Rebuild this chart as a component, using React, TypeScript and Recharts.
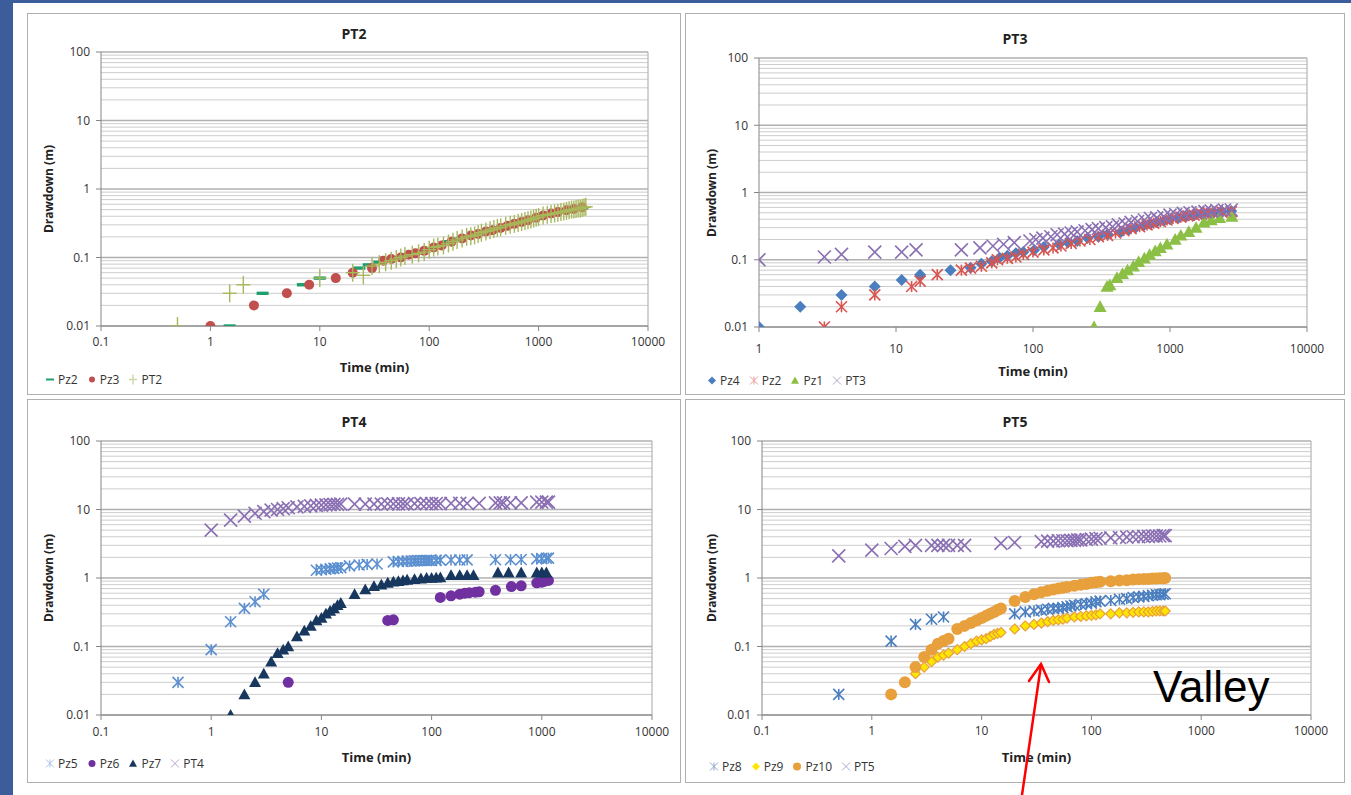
import React from 'react';
import { ScatterChart, Scatter, XAxis, YAxis, CartesianGrid, ReferenceLine } from 'recharts';

// ---------------- DATA ----------------
// Axis ticks
const Y_MAJOR = [0.01, 0.1, 1, 10, 100];
const Y_MINOR = [0.02, 0.03, 0.04, 0.05, 0.06, 0.07, 0.08, 0.09, 0.2, 0.3, 0.4, 0.5, 0.6, 0.7, 0.8, 0.9, 2, 3, 4, 5, 6, 7, 8, 9, 20, 30, 40, 50, 60, 70, 80, 90];
const X_TICKS_A = [0.1, 1, 10, 100, 1000, 10000];
const X_TICKS_B = [1, 10, 100, 1000, 10000];

// PT2 panel
const pt2Pz2T = [1.5, 3, 7, 10, 23, 28, 35, 45, 55, 65, 80, 100, 120, 150, 180, 210, 250, 300, 350, 400, 480, 560, 640, 720, 800, 900, 1000, 1150, 1300, 1500, 1700, 1900, 2100, 2300, 2500];
const pt2Pz2D = [0.01, 0.03, 0.04, 0.05, 0.07, 0.078, 0.085, 0.095, 0.1, 0.11, 0.12, 0.135, 0.15, 0.17, 0.185, 0.2, 0.215, 0.235, 0.25, 0.27, 0.29, 0.31, 0.33, 0.35, 0.36, 0.38, 0.4, 0.43, 0.44, 0.46, 0.48, 0.5, 0.51, 0.52, 0.53];
const pt2Pz3T = [1, 2.5, 5, 8, 14, 20, 30, 38, 45, 55, 65, 75, 90, 110, 130, 160, 200, 240, 280, 330, 380, 450, 520, 600, 700, 800, 950, 1100, 1300, 1500, 1800, 2100, 2500];
const pt2Pz3D = [0.01, 0.02, 0.03, 0.04, 0.05, 0.06, 0.07, 0.09, 0.095, 0.1, 0.11, 0.115, 0.125, 0.14, 0.15, 0.17, 0.19, 0.21, 0.22, 0.24, 0.25, 0.27, 0.29, 0.31, 0.33, 0.35, 0.38, 0.41, 0.44, 0.46, 0.49, 0.51, 0.54];
const pt2PT2T = [0.5, 1.5, 2, 10, 20, 25, 30, 35, 40, 45, 50, 55, 60, 70, 80, 90, 100, 110, 120, 135, 150, 165, 180, 200, 220, 240, 260, 280, 300, 330, 360, 390, 420, 450, 500, 550, 600, 650, 700, 750, 800, 850, 900, 950, 1000, 1100, 1200, 1300, 1400, 1500, 1600, 1700, 1800, 1900, 2000, 2100, 2200, 2300, 2400, 2500, 2600, 2700];
const pt2PT2D = [0.01, 0.03, 0.04, 0.05, 0.06, 0.055, 0.075, 0.08, 0.085, 0.09, 0.095, 0.1, 0.105, 0.11, 0.115, 0.12, 0.13, 0.14, 0.145, 0.15, 0.16, 0.17, 0.18, 0.19, 0.2, 0.205, 0.21, 0.22, 0.23, 0.24, 0.25, 0.26, 0.27, 0.275, 0.29, 0.3, 0.31, 0.32, 0.33, 0.34, 0.35, 0.36, 0.37, 0.38, 0.39, 0.41, 0.42, 0.43, 0.44, 0.45, 0.46, 0.47, 0.48, 0.49, 0.5, 0.5, 0.51, 0.52, 0.52, 0.53, 0.54, 0.55];

// PT3 panel
const pt3Pz4T = [1, 2, 4, 7, 11, 15, 25, 35, 42, 50, 57, 65, 75, 85, 102, 120, 155, 180, 210, 250, 300, 350, 440, 500, 560, 640, 720, 800, 900, 1000, 1150, 1300, 1500, 1700, 1900, 2100, 2400, 2800];
const pt3Pz4D = [0.01, 0.02, 0.03, 0.04, 0.05, 0.06, 0.07, 0.076, 0.087, 0.095, 0.107, 0.115, 0.125, 0.13, 0.14, 0.155, 0.17, 0.18, 0.19, 0.21, 0.22, 0.24, 0.26, 0.28, 0.3, 0.32, 0.34, 0.36, 0.38, 0.4, 0.42, 0.44, 0.46, 0.48, 0.5, 0.51, 0.52, 0.53];
const pt3Pz2T = [3, 4, 7, 13, 15, 20, 30, 35, 42, 50, 55, 65, 75, 85, 100, 120, 140, 160, 190, 220, 260, 300, 350, 400, 460, 520, 600, 680, 760, 850, 950, 1050, 1200, 1350, 1500, 1700, 1900, 2100, 2400, 2800];
const pt3Pz2D = [0.01, 0.02, 0.03, 0.04, 0.048, 0.06, 0.07, 0.075, 0.08, 0.09, 0.1, 0.105, 0.11, 0.12, 0.13, 0.14, 0.15, 0.16, 0.175, 0.19, 0.2, 0.22, 0.23, 0.25, 0.27, 0.29, 0.31, 0.33, 0.35, 0.37, 0.39, 0.41, 0.43, 0.45, 0.46, 0.48, 0.5, 0.5, 0.51, 0.52];
const pt3Pz1T = [279, 309, 347, 364, 410, 450, 490, 540, 590, 650, 710, 780, 850, 950, 1090, 1200, 1370, 1550, 1770, 2000, 2300, 2830];
const pt3Pz1D = [0.01, 0.02, 0.04, 0.042, 0.054, 0.062, 0.07, 0.08, 0.093, 0.105, 0.119, 0.135, 0.15, 0.17, 0.2, 0.23, 0.26, 0.3, 0.36, 0.39, 0.42, 0.44];
const pt3PT3T = [1, 3, 4, 7, 11, 14, 30, 41, 51, 61, 73, 95, 105, 118, 135, 150, 170, 190, 210, 240, 270, 300, 340, 380, 420, 470, 520, 580, 650, 720, 800, 900, 1000, 1100, 1250, 1400, 1600, 1800, 2000, 2200, 2500, 2800];
const pt3PT3D = [0.1, 0.11, 0.12, 0.13, 0.13, 0.14, 0.14, 0.15, 0.16, 0.17, 0.18, 0.19, 0.2, 0.21, 0.22, 0.235, 0.24, 0.25, 0.26, 0.27, 0.28, 0.29, 0.3, 0.31, 0.33, 0.34, 0.36, 0.37, 0.39, 0.41, 0.42, 0.44, 0.46, 0.47, 0.49, 0.5, 0.51, 0.52, 0.53, 0.54, 0.55, 0.55];

// PT4 panel
const pt4Pz5T = [0.5, 1, 1.5, 2, 2.5, 3, 9, 10, 11, 12, 13, 14, 15, 18, 22, 26, 32, 45, 50, 55, 60, 65, 70, 75, 80, 85, 90, 95, 100, 110, 120, 150, 180, 210, 380, 520, 650, 900, 1000, 1100, 1150];
const pt4Pz5D = [0.03, 0.09, 0.23, 0.36, 0.45, 0.58, 1.3, 1.32, 1.34, 1.36, 1.38, 1.4, 1.42, 1.5, 1.55, 1.58, 1.6, 1.72, 1.74, 1.75, 1.76, 1.77, 1.78, 1.79, 1.8, 1.8, 1.8, 1.8, 1.8, 1.81, 1.82, 1.83, 1.83, 1.84, 1.85, 1.85, 1.86, 1.9, 1.92, 1.94, 1.95];
const pt4Pz6T = [5, 40, 45, 120, 150, 180, 200, 220, 250, 270, 380, 530, 650, 900, 1000, 1050, 1150];
const pt4Pz6D = [0.03, 0.24, 0.245, 0.52, 0.55, 0.58, 0.6, 0.61, 0.62, 0.63, 0.66, 0.75, 0.77, 0.85, 0.87, 0.89, 0.92];
const pt4Pz7T = [1.5, 2, 2.5, 3, 3.5, 4, 4.5, 5, 6, 7, 8, 9, 10, 11, 12, 13, 14, 15, 20, 25, 30, 35, 40, 45, 50, 55, 60, 70, 80, 90, 100, 110, 120, 150, 180, 210, 240, 400, 500, 650, 900, 1000, 1100];
const pt4Pz7D = [0.01, 0.02, 0.03, 0.04, 0.06, 0.08, 0.09, 0.1, 0.14, 0.17, 0.2, 0.24, 0.26, 0.3, 0.33, 0.36, 0.4, 0.43, 0.58, 0.68, 0.76, 0.8, 0.85, 0.88, 0.9, 0.92, 0.94, 0.96, 0.98, 1.0, 1.0, 1.01, 1.02, 1.1, 1.1, 1.1, 1.1, 1.2, 1.2, 1.2, 1.2, 1.2, 1.2];
const pt4PT4T = [1, 1.5, 2, 2.5, 3, 3.5, 4, 4.5, 5, 6, 7, 8, 9, 10, 11, 12, 13, 14, 15, 20, 25, 30, 35, 40, 45, 50, 55, 60, 70, 80, 90, 100, 110, 120, 150, 180, 210, 270, 380, 420, 450, 520, 650, 900, 1000, 1100, 1150];
const pt4PT4D = [5, 7, 8, 8.8, 9.3, 9.8, 10, 10.3, 10.6, 10.9, 11.1, 11.3, 11.5, 11.6, 11.7, 11.8, 11.9, 11.9, 12, 12, 12, 12, 12, 12.1, 12.1, 12.1, 12.1, 12.1, 12.2, 12.2, 12.2, 12.2, 12.2, 12.2, 12.3, 12.3, 12.3, 12.3, 12.5, 12.5, 12.5, 12.5, 12.5, 12.8, 12.8, 12.8, 12.8];

// PT5 panel
const pt5Pz8T = [0.5, 1.5, 2.5, 3.5, 4.5, 20, 25, 30, 35, 40, 45, 50, 55, 60, 65, 70, 80, 90, 100, 110, 120, 150, 180, 210, 240, 270, 300, 330, 360, 390, 420, 450, 470];
const pt5Pz8D = [0.02, 0.12, 0.21, 0.25, 0.27, 0.3, 0.32, 0.33, 0.34, 0.35, 0.36, 0.36, 0.37, 0.38, 0.39, 0.4, 0.41, 0.42, 0.43, 0.45, 0.46, 0.47, 0.49, 0.5, 0.52, 0.53, 0.54, 0.55, 0.56, 0.57, 0.57, 0.58, 0.59];
const pt5Pz9T = [2.5, 3, 3.5, 4, 4.5, 5, 6, 7, 8, 9, 10, 11, 12, 13, 14, 15, 20, 25, 30, 35, 40, 45, 50, 55, 60, 70, 80, 90, 100, 110, 120, 150, 180, 210, 240, 270, 300, 330, 360, 390, 420, 450, 470];
const pt5Pz9D = [0.04, 0.05, 0.06, 0.07, 0.075, 0.08, 0.09, 0.1, 0.11, 0.12, 0.125, 0.13, 0.14, 0.15, 0.155, 0.16, 0.18, 0.2, 0.21, 0.22, 0.23, 0.24, 0.245, 0.25, 0.26, 0.27, 0.275, 0.28, 0.285, 0.29, 0.3, 0.3, 0.31, 0.31, 0.315, 0.32, 0.32, 0.32, 0.325, 0.33, 0.33, 0.33, 0.33];
const pt5Pz10T = [1.5, 2, 2.5, 3, 3.5, 4, 4.5, 5, 6, 7, 8, 9, 10, 11, 12, 13, 14, 15, 20, 25, 30, 35, 40, 45, 50, 55, 60, 70, 80, 90, 100, 110, 120, 150, 180, 210, 240, 270, 300, 330, 360, 390, 420, 450, 470];
const pt5Pz10D = [0.02, 0.03, 0.05, 0.07, 0.09, 0.11, 0.12, 0.13, 0.18, 0.2, 0.22, 0.24, 0.26, 0.28, 0.3, 0.32, 0.34, 0.36, 0.46, 0.53, 0.58, 0.62, 0.65, 0.68, 0.7, 0.72, 0.74, 0.77, 0.8, 0.82, 0.85, 0.87, 0.88, 0.9, 0.92, 0.93, 0.95, 0.96, 0.97, 0.97, 0.98, 0.98, 0.99, 0.99, 1.0];
const pt5PT5T = [0.5, 1, 1.5, 2, 2.5, 3.5, 4, 4.5, 5, 6, 7, 15, 20, 35, 40, 45, 50, 55, 60, 65, 70, 75, 80, 90, 100, 110, 120, 150, 180, 210, 240, 270, 300, 330, 360, 390, 420, 450, 470];
const pt5PT5D = [2.1, 2.55, 2.7, 2.9, 3.0, 3.0, 3.0, 3.0, 3.0, 3.0, 3.0, 3.2, 3.3, 3.4, 3.45, 3.45, 3.5, 3.5, 3.5, 3.55, 3.55, 3.6, 3.6, 3.65, 3.7, 3.75, 3.8, 3.85, 3.9, 3.95, 4.0, 4.0, 4.05, 4.05, 4.1, 4.1, 4.1, 4.15, 4.15];

// ---------------- HELPERS ----------------
type Pt = { t: number; d: number };
const zip = (T: number[], D: number[]): Pt[] => T.map((t, i) => ({ t, d: D[i] }));

const FONT = '"Open Sans", "Noto Sans", sans-serif';
const TXT = '#333333';

type ShapeFn = (p: any) => React.ReactElement;

const mkDash = (c: string): ShapeFn => (p) => (
  <rect x={p.cx - 6} y={p.cy - 1.7} width={12} height={3.4} fill={c} />
);
const mkCircle = (c: string, r: number): ShapeFn => (p) => <circle cx={p.cx} cy={p.cy} r={r} fill={c} />;
const mkPlus = (c: string, w: number, h: number): ShapeFn => (p) => (
  <g stroke={c} strokeWidth={1.4}>
    <line x1={p.cx - w} y1={p.cy} x2={p.cx + w} y2={p.cy} />
    <line x1={p.cx} y1={p.cy - h} x2={p.cx} y2={p.cy + h} />
  </g>
);
const mkDiamond = (fill: string, stroke: string | null, s: number): ShapeFn => (p) => (
  <polygon
    points={`${p.cx},${p.cy - s} ${p.cx + s},${p.cy} ${p.cx},${p.cy + s} ${p.cx - s},${p.cy}`}
    fill={fill}
    stroke={stroke || 'none'}
    strokeWidth={stroke ? 1.2 : 0}
  />
);
const mkTriangle = (c: string, s: number): ShapeFn => (p) => (
  <polygon points={`${p.cx},${p.cy - s} ${p.cx + s},${p.cy + s * 0.8} ${p.cx - s},${p.cy + s * 0.8}`} fill={c} />
);
const mkX = (c: string, s: number, w: number): ShapeFn => (p) => (
  <g stroke={c} strokeWidth={w}>
    <line x1={p.cx - s} y1={p.cy - s} x2={p.cx + s} y2={p.cy + s} />
    <line x1={p.cx - s} y1={p.cy + s} x2={p.cx + s} y2={p.cy - s} />
  </g>
);
const mkStar = (c: string, s: number, w: number): ShapeFn => (p) => (
  <g stroke={c} strokeWidth={w}>
    <line x1={p.cx - s} y1={p.cy - s} x2={p.cx + s} y2={p.cy + s} />
    <line x1={p.cx - s} y1={p.cy + s} x2={p.cx + s} y2={p.cy - s} />
    <line x1={p.cx} y1={p.cy - s} x2={p.cx} y2={p.cy + s} />
  </g>
);

type Series = { name: string; data: Pt[]; shape: ShapeFn; icon: ShapeFn };

type PanelProps = {
  box: [number, number, number, number];
  plot: [number, number, number, number];
  xDomain: [number, number];
  xTicks: number[];
  title: string;
  titleY: number;
  xLabelY: number;
  yLabelX: number;
  legendX: number;
  legendY: number;
  xTickMargin: number;
  series: Series[];
};

const Y_AXIS_W = 40;
const X_AXIS_H = 30;

function Panel(props: PanelProps) {
  const { box, plot, xDomain, xTicks, title, titleY, xLabelY, yLabelX, legendX, legendY, xTickMargin, series } = props;
  const W = box[2] - box[0];
  const H = box[3] - box[1];
  const margin = {
    top: plot[1] - box[1],
    left: plot[0] - box[0] - Y_AXIS_W,
    right: box[2] - plot[2],
    bottom: box[3] - plot[3] - X_AXIS_H,
  };
  const tickStyle = { fill: TXT, fontSize: 12, fontFamily: FONT };
  const plotCx = (plot[0] + plot[2]) / 2;
  const plotCy = (plot[1] + plot[3]) / 2;
  return (
    <>
      <div
        style={{
          position: 'absolute', left: box[0], top: box[1], width: W, height: H,
          border: '1.5px solid #b0b0b0', boxSizing: 'border-box', background: '#fff',
        }}
      />
      <div style={{ position: 'absolute', left: box[0], top: box[1] }}>
        <ScatterChart width={W} height={H} margin={margin}>
          {Y_MINOR.map((v) => (
            <ReferenceLine key={'m' + v} y={v} stroke="#cdcdcd" strokeWidth={1} ifOverflow="hidden" />
          ))}
          <CartesianGrid vertical={false} stroke="#b0b0b0" strokeWidth={1.3} />
          <ReferenceLine x={xDomain[1]} stroke="#b4b4b4" strokeWidth={1.2} />
          <XAxis
            type="number" dataKey="t" scale="log" domain={xDomain} ticks={xTicks} allowDataOverflow
            interval={0} height={X_AXIS_H} stroke="#868686" tick={tickStyle} tickSize={5} tickMargin={xTickMargin}
          />
          <YAxis
            type="number" dataKey="d" scale="log" domain={[0.01, 100]} ticks={Y_MAJOR} allowDataOverflow
            interval={0} width={Y_AXIS_W} stroke="#868686" tick={tickStyle} tickSize={5} tickMargin={6}
          />
          {series.map((s) => (
            <Scatter key={s.name} name={s.name} data={s.data} shape={s.shape} isAnimationActive={false} />
          ))}
        </ScatterChart>
      </div>
      <div
        style={{
          position: 'absolute', left: (box[0] + box[2]) / 2, top: titleY, transform: 'translate(-50%, -50%)',
          fontFamily: FONT, fontWeight: 700, fontSize: 14, color: '#222', whiteSpace: 'nowrap',
        }}
      >
        {title}
      </div>
      <div
        style={{
          position: 'absolute', left: plotCx, top: xLabelY, transform: 'translate(-50%, -50%)',
          fontFamily: FONT, fontWeight: 700, fontSize: 13, color: '#222', whiteSpace: 'nowrap',
        }}
      >
        Time (min)
      </div>
      <div
        style={{
          position: 'absolute', left: yLabelX, top: plotCy, transform: 'translate(-50%, -50%) rotate(-90deg)',
          fontFamily: FONT, fontWeight: 700, fontSize: 12, color: '#222', whiteSpace: 'nowrap',
        }}
      >
        Drawdown (m)
      </div>
      <div
        style={{
          position: 'absolute', left: legendX, top: legendY, transform: 'translateY(-50%)',
          display: 'flex', alignItems: 'center', gap: 8, fontFamily: FONT, fontSize: 12, color: TXT, whiteSpace: 'nowrap',
        }}
      >
        {series.map((s) => (
          <div key={s.name} style={{ display: 'flex', alignItems: 'center', gap: 2 }}>
            <svg width={12} height={12}>{s.icon({ cx: 6, cy: 6 })}</svg>
            <span>{s.name}</span>
          </div>
        ))}
      </div>
    </>
  );
}

// colours
const C_GREEN_DASH = '#1f9e6e';
const C_RED = '#c0504d';
const C_OLIVE = '#a7b85a';
const C_BLUE = '#4a7ebf';
const C_RED_STAR = '#d9534f';
const C_GREEN_TRI = '#8cbf45';
const C_PURPLE_X = '#8a6fb3';
const C_LBLUE = '#5b8fd0';
const C_VIOLET = '#7030a0';
const C_NAVY = '#17375e';
const C_YELLOW = '#ffe600';
const C_ORANGE = '#e8a03c';

const panels: PanelProps[] = [
  {
    box: [27, 13, 681, 395], plot: [101, 52, 648, 326], xDomain: [0.1, 10000], xTicks: X_TICKS_A,
    title: 'PT2', titleY: 33, xLabelY: 367, yLabelX: 48, legendX: 44, legendY: 379, xTickMargin: 6,
    series: [
      { name: 'Pz2', data: zip(pt2Pz2T, pt2Pz2D), shape: mkDash(C_GREEN_DASH), icon: (p) => <rect x={p.cx - 4} y={p.cy - 1} width={8} height={2} fill={C_GREEN_DASH} /> },
      { name: 'Pz3', data: zip(pt2Pz3T, pt2Pz3D), shape: mkCircle(C_RED, 5), icon: mkCircle(C_RED, 3) },
      { name: 'PT2', data: zip(pt2PT2T, pt2PT2D), shape: mkPlus(C_OLIVE, 7, 9), icon: mkPlus('#cfd6a8', 4, 5) },
    ],
  },
  {
    box: [685, 13, 1345, 395], plot: [759, 58, 1307, 327], xDomain: [1, 10000], xTicks: X_TICKS_B,
    title: 'PT3', titleY: 38, xLabelY: 371, yLabelX: 711, legendX: 706, legendY: 380, xTickMargin: 12,
    series: [
      { name: 'Pz4', data: zip(pt3Pz4T, pt3Pz4D), shape: mkDiamond(C_BLUE, null, 6), icon: mkDiamond(C_BLUE, null, 4) },
      { name: 'Pz2', data: zip(pt3Pz2T, pt3Pz2D), shape: mkStar(C_RED_STAR, 5.5, 1.6), icon: mkStar('#e89a98', 4, 1) },
      { name: 'Pz1', data: zip(pt3Pz1T, pt3Pz1D), shape: mkTriangle(C_GREEN_TRI, 6.5), icon: mkTriangle(C_GREEN_TRI, 4) },
      { name: 'PT3', data: zip(pt3PT3T, pt3PT3D), shape: mkX(C_PURPLE_X, 6.5, 1.6), icon: mkX('#b4a4cc', 4, 1) },
    ],
  },
  {
    box: [27, 399, 681, 783], plot: [101, 441, 652, 715], xDomain: [0.1, 10000], xTicks: X_TICKS_A,
    title: 'PT4', titleY: 421, xLabelY: 757, yLabelX: 48, legendX: 44, legendY: 763, xTickMargin: 7,
    series: [
      { name: 'Pz5', data: zip(pt4Pz5T, pt4Pz5D), shape: mkStar(C_LBLUE, 5.5, 1.6), icon: mkStar('#a9c2e6', 4, 1) },
      { name: 'Pz6', data: zip(pt4Pz6T, pt4Pz6D), shape: mkCircle(C_VIOLET, 5.5), icon: mkCircle(C_VIOLET, 3.5) },
      { name: 'Pz7', data: zip(pt4Pz7T, pt4Pz7D), shape: mkTriangle(C_NAVY, 6), icon: mkTriangle(C_NAVY, 4) },
      { name: 'PT4', data: zip(pt4PT4T, pt4PT4D), shape: mkX(C_PURPLE_X, 6.5, 1.6), icon: mkX('#b4a4cc', 4, 1) },
    ],
  },
  {
    box: [685, 399, 1345, 783], plot: [762, 441, 1311, 715], xDomain: [0.1, 10000], xTicks: X_TICKS_A,
    title: 'PT5', titleY: 421, xLabelY: 757, yLabelX: 711, legendX: 708, legendY: 766, xTickMargin: 6,
    series: [
      { name: 'Pz8', data: zip(pt5Pz8T, pt5Pz8D), shape: mkStar(C_BLUE, 5.5, 1.6), icon: mkStar('#8fa6c8', 4, 1) },
      { name: 'Pz9', data: zip(pt5Pz9T, pt5Pz9D), shape: mkDiamond(C_YELLOW, C_ORANGE, 5), icon: mkDiamond(C_YELLOW, null, 4) },
      { name: 'Pz10', data: zip(pt5Pz10T, pt5Pz10D), shape: mkCircle(C_ORANGE, 6), icon: mkCircle(C_ORANGE, 4) },
      { name: 'PT5', data: zip(pt5PT5T, pt5PT5D), shape: mkX(C_PURPLE_X, 6.5, 1.6), icon: mkX('#b4a4cc', 4, 1) },
    ],
  },
];

export default function App() {
  return (
    <div
      style={{
        position: 'absolute', left: 0, top: 0, width: 1351, height: 795, background: '#ffffff', overflow: 'hidden',
      }}
    >
      <div style={{ position: 'absolute', left: 0, top: 0, width: 13, height: 795, background: '#3c5d9b' }} />
      <div style={{ position: 'absolute', left: 0, top: 0, width: 1351, height: 3, background: '#3c5d9b' }} />
      {panels.map((p) => (
        <Panel key={p.title} {...p} />
      ))}
      <svg
        width={1351}
        height={795}
        style={{ position: 'absolute', left: 0, top: 0, pointerEvents: 'none' }}
      >
        <text x={1153} y={702} fontSize={44} fontFamily='"Liberation Sans", Arial, sans-serif' fill="#000">
          Valley
        </text>
        <g stroke="#ff0000" strokeWidth={2.5} fill="none" strokeLinecap="round">
          <line x1={1022} y1={795} x2={1041} y2={665} />
          <polyline points="1029,681 1041,664 1049,682" />
        </g>
      </svg>
    </div>
  );
}
